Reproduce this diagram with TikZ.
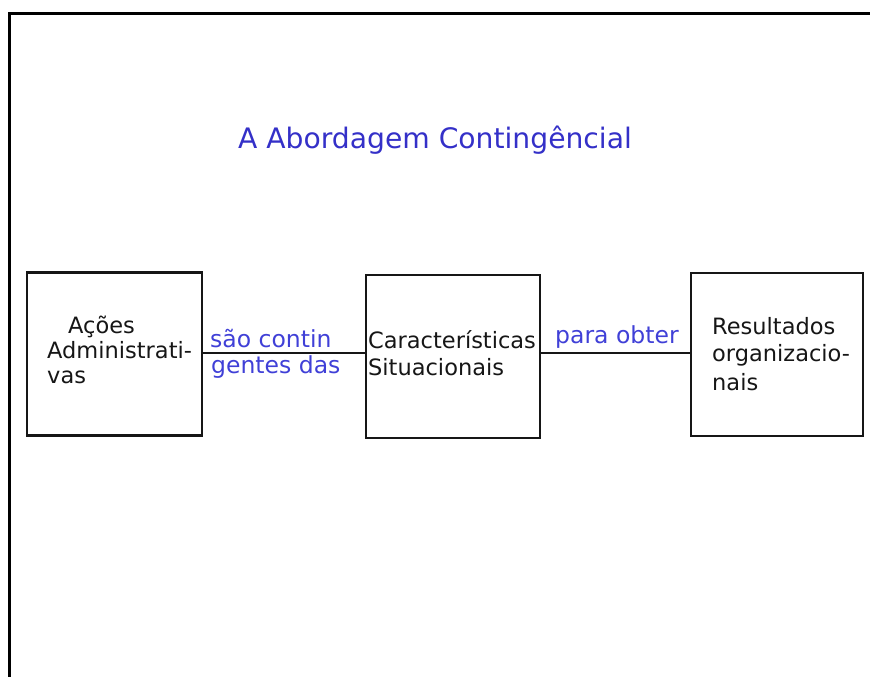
\documentclass[tikz,border=0pt]{standalone}
\usepackage{fontspec}
\setmainfont{DejaVu Sans}
\definecolor{ink}{RGB}{22,22,22}
\definecolor{titleblue}{RGB}{52,48,200}
\definecolor{labelblue}{RGB}{64,64,215}
\tikzset{
  frameline/.style={line width=2.8pt, draw=black},
  stage/.style={draw=ink, line width=2.6pt, minimum width=175pt, minimum height=163pt, inner sep=0pt},
  boxtext/.style={anchor=base west, inner sep=0pt, text=ink, font=\fontsize{22.5}{27}\selectfont},
  linklabel/.style={anchor=base west, inner sep=0pt, text=labelblue, font=\fontsize{23.5}{27}\selectfont},
  link/.style={draw=ink, line width=2.4pt}
}
\begin{document}
\begin{tikzpicture}[x=1pt,y=-1pt]
  \useasboundingbox (0,0) rectangle (870,677);
  % page frame: top and left edges only
  \coordinate (frameTL) at (9.5,13.5);
  \coordinate (frameTR) at (872,13.5);
  \coordinate (frameBL) at (9.5,679);
  \draw[frameline] (frameTR) -- (frameTL) -- (frameBL);

  % title
  \node[text=titleblue, inner sep=0pt, anchor=base, font=\fontsize{28.2}{33}\selectfont] (title) at (435,148) {A Abordagem Contingêncial};

  % the three stages
  \node[stage] (acoes) at (114.5,354) {};
  \node[stage, minimum width=174pt] (situ) at (453,356.5) {};
  \node[stage, minimum width=172pt] (result) at (777,354.5) {};

  % stage texts
  \node[boxtext] (t1a) at (68,333) {Ações};
  \node[boxtext] (t1b) at (47,358) {Administrati-};
  \node[boxtext] (t1c) at (47,383) {vas};
  \node[boxtext] (t2a) at (368,348) {Características};
  \node[boxtext] (t2b) at (368,375) {Situacionais};
  \node[boxtext] (t3a) at (712,334) {Resultados};
  \node[boxtext] (t3b) at (712,361) {organizacio-};
  \node[boxtext] (t3c) at (712,390) {nais};

  % connectors
  \coordinate (linkrow) at (0,353);
  \draw[link] (acoes.east |- linkrow) -- (situ.west |- linkrow);
  \draw[link] (situ.east |- linkrow) -- (result.west |- linkrow);

  % connector labels
  \node[linklabel] (l1a) at (210,347) {são contin};
  \node[linklabel] (l1b) at (211,373) {gentes das};
  \node[linklabel] (l2) at (555,343) {para obter};
\end{tikzpicture}
\end{document}
